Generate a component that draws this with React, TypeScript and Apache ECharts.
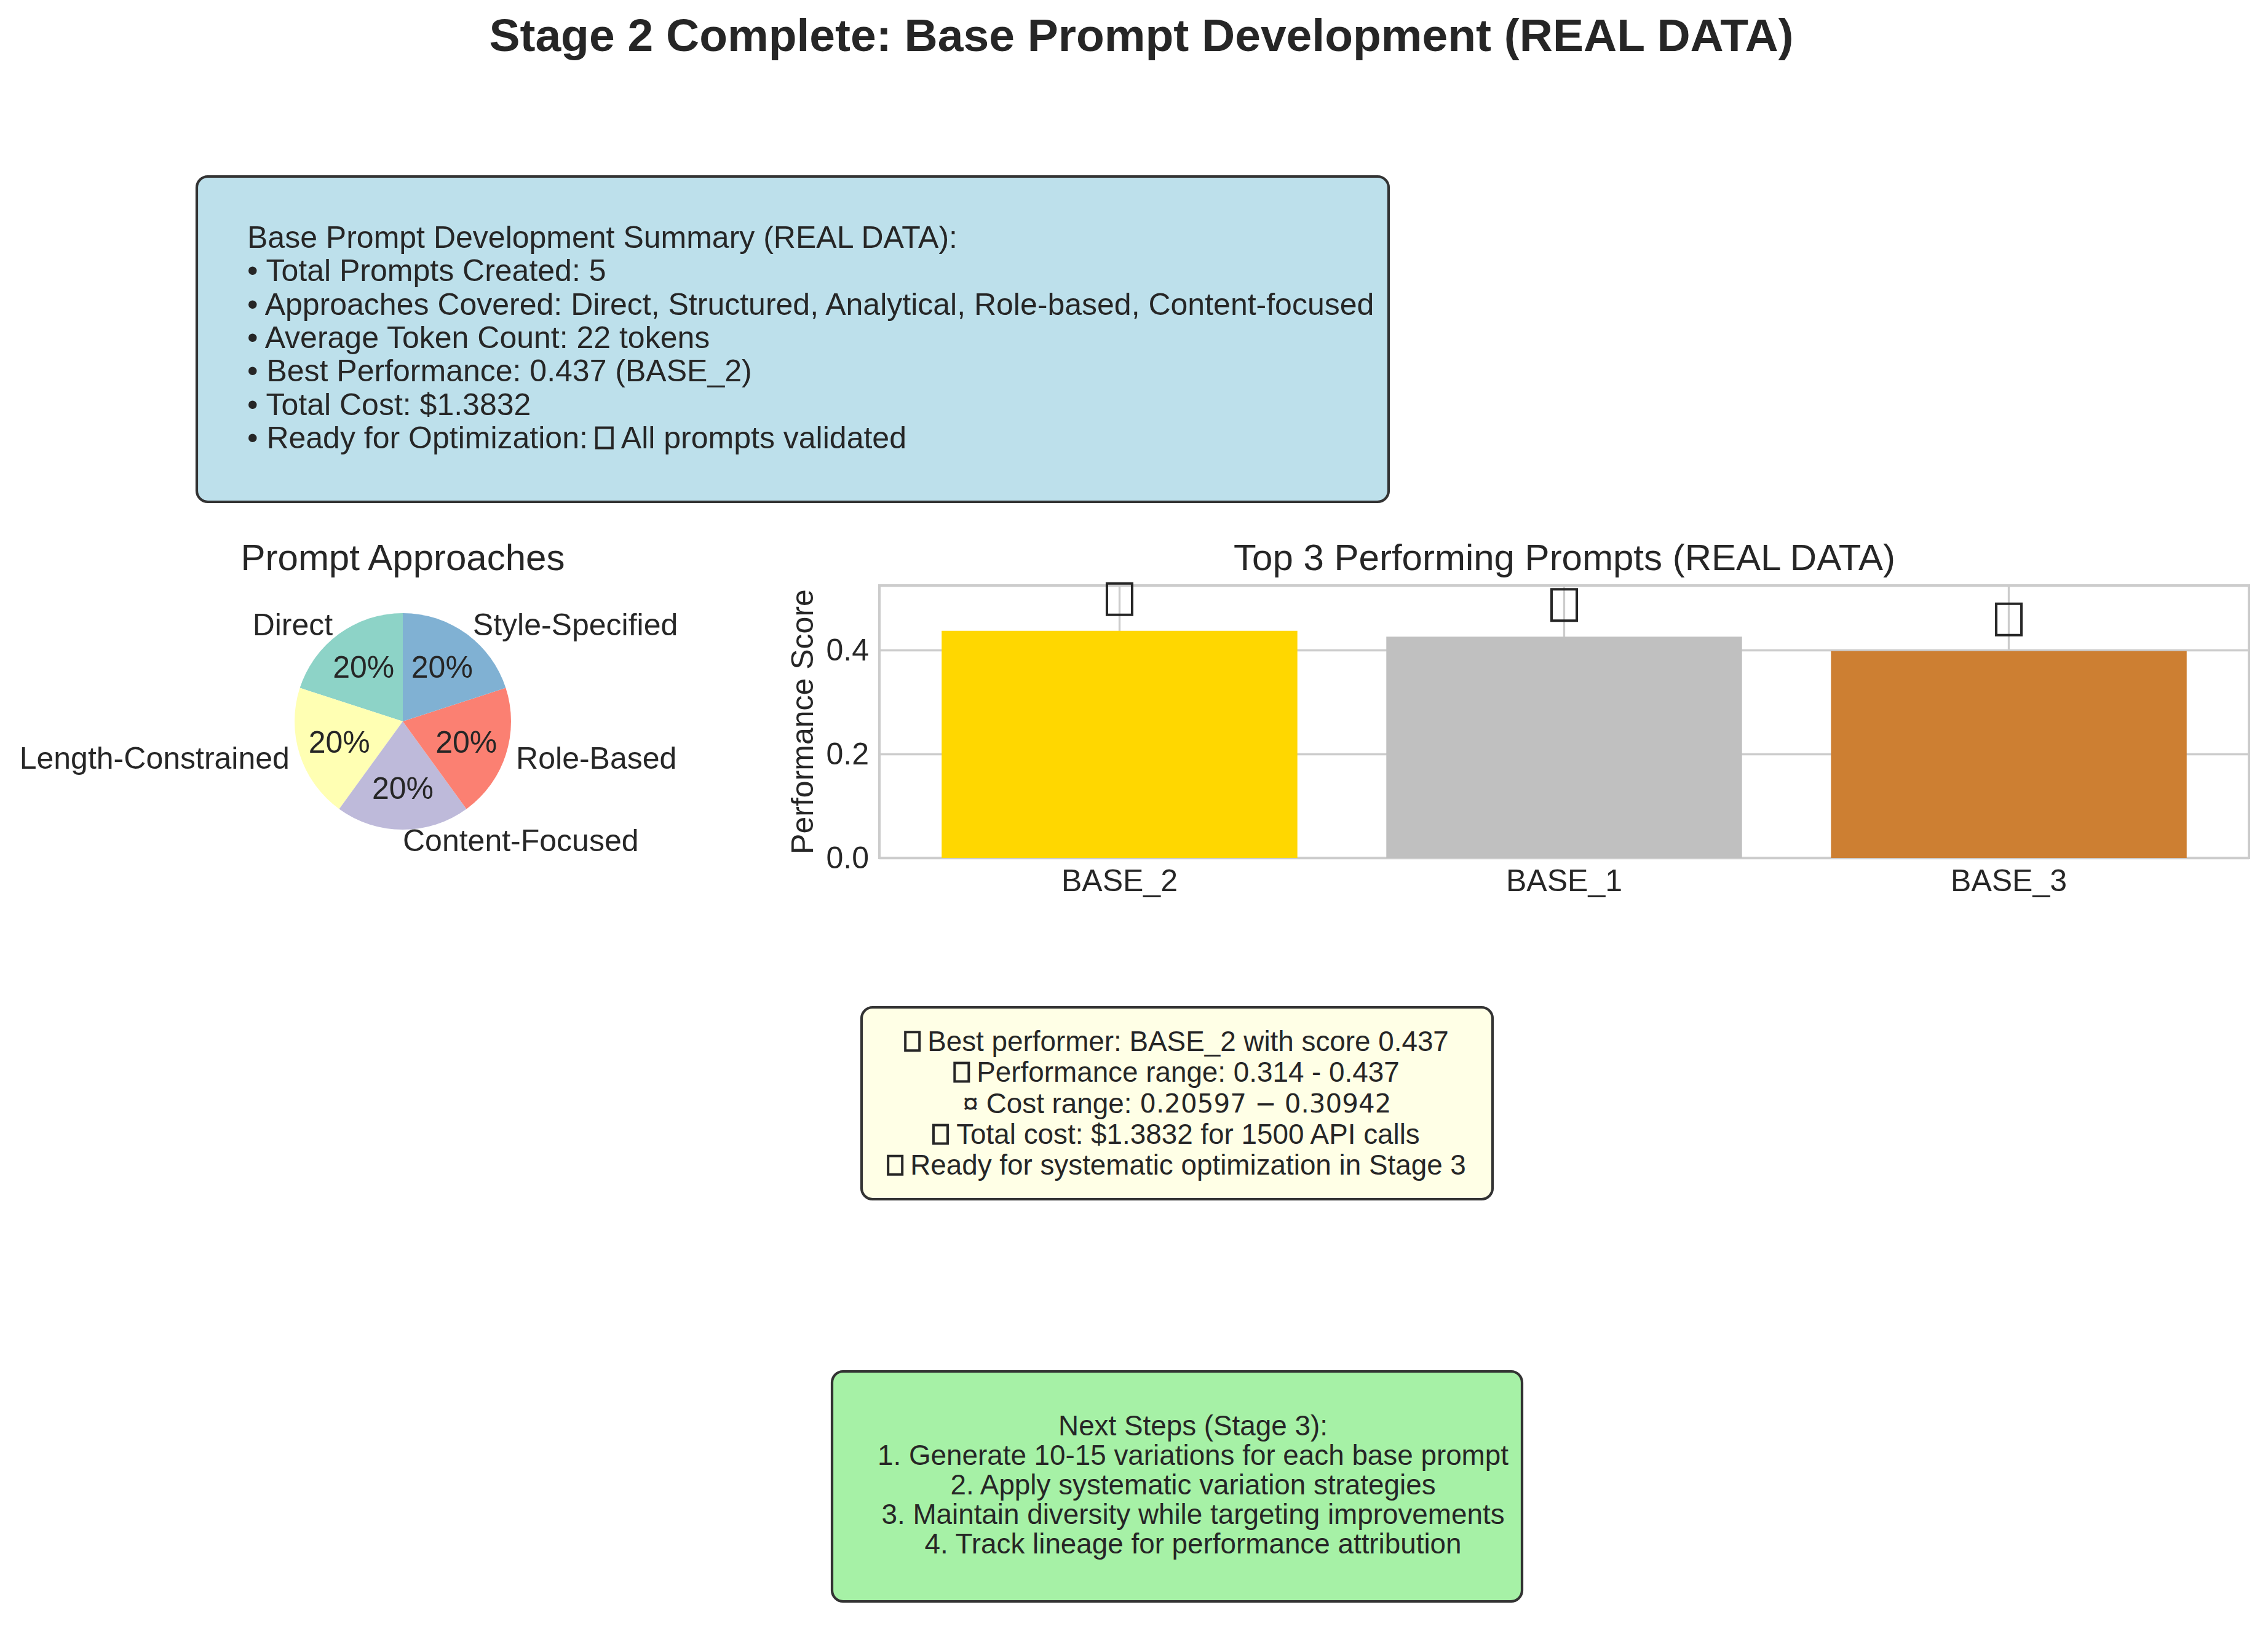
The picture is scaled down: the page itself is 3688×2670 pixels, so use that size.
import React, { useEffect, useRef } from "react";
import * as echarts from "echarts";

const FONT = '"Liberation Sans", Arial, Helvetica, sans-serif';
const MATH_FONT = '"DejaVu Sans", sans-serif';
const TEXT = "#262626";

// Figure title
const figureTitle = "Stage 2 Complete: Base Prompt Development (REAL DATA)";

// Pie: prompt approaches
const pieTitle = "Prompt Approaches";
const approachNames = ["Direct", "Length-Constrained", "Content-Focused", "Role-Based", "Style-Specified"];
const approachCounts = [1, 1, 1, 1, 1];
const approachColors = ["#8dd3c7", "#ffffb3", "#bebada", "#fb8072", "#80b1d3"];

// Bar: top 3 prompts
const barTitle = "Top 3 Performing Prompts (REAL DATA)";
const topPrompts = ["BASE_2", "BASE_1", "BASE_3"];
const topScores = [0.437, 0.426, 0.398];
const topColors = ["#ffd700", "#c0c0c0", "#cd7f32"];
const yAxisName = "Performance Score";
const yMax = 0.437 * 1.2;

// Text boxes ({t| } = glyph the figure's font could not draw, shown as an empty box; {s| } = space)
const summaryLines = [
  "Base Prompt Development Summary (REAL DATA):",
  "• Total Prompts Created: 5",
  "• Approaches Covered: Direct, Structured, Analytical, Role-based, Content-focused",
  "• Average Token Count: 22 tokens",
  "• Best Performance: 0.437 (BASE_2)",
  "• Total Cost: $1.3832",
  "• Ready for Optimization:{s| }{t| }{s| }All prompts validated",
];
const insightLines = [
  "{t| }{s| }Best performer: BASE_2 with score 0.437",
  "{t| }{s| }Performance range: 0.314 - 0.437",
  "¤ Cost range: {m|0.20597 − 0.30942}",
  "{t| }{s| }Total cost: $1.3832 for 1500 API calls",
  "{t| }{s| }Ready for systematic optimization in Stage 3",
];
const nextStepLines = [
  "Next Steps (Stage 3):",
  "1. Generate 10-15 variations for each base prompt",
  "2. Apply systematic variation strategies",
  "3. Maintain diversity while targeting improvements",
  "4. Track lineage for performance attribution",
];

function tofu(w: number, h: number, lh: number) {
  return {
    width: w, height: h, lineHeight: lh, borderColor: TEXT, borderWidth: 2,
    backgroundColor: "transparent", fontSize: 10, fill: "transparent", color: "transparent",
  };
}
function spacer(w: number, lh: number) {
  return { width: w, lineHeight: lh, fontSize: 10, fill: "transparent", color: "transparent" };
}

function buildOption(): any {
  const frameLeft = 1430;
  const frameWidth = 2227;
  const inset = (frameWidth * 0.04) / 3.08;
  return {
    animation: false,
    backgroundColor: "#ffffff",
    textStyle: { fontFamily: FONT, color: TEXT },
    grid: [
      {
        left: frameLeft, top: 952, width: frameWidth, height: 443,
        show: true, borderColor: "#cccccc", borderWidth: 4, backgroundColor: "#ffffff",
        containLabel: false, outerBoundsMode: "none",
      },
      {
        left: frameLeft + inset, top: 952, width: frameWidth - 2 * inset, height: 443,
        containLabel: false, outerBoundsMode: "none",
      },
    ],
    xAxis: [
      { gridIndex: 0, type: "value", min: 0, max: 1, show: false },
      {
        gridIndex: 1, type: "category", data: topPrompts,
        axisLine: { show: false }, axisTick: { show: false }, splitLine: { show: false },
        axisLabel: { fontSize: 50, color: TEXT, fontFamily: FONT, margin: 12 },
      },
    ],
    yAxis: [
      {
        gridIndex: 0, type: "value", min: 0, max: yMax, interval: 0.2,
        axisLine: { show: false }, axisTick: { show: false },
        axisLabel: {
          fontSize: 50, color: TEXT, fontFamily: FONT, margin: 17, showMaxLabel: false,
          formatter: (v: number) => v.toFixed(1),
        },
        splitLine: { show: true, lineStyle: { color: "#cccccc", width: 3.3 } },
        name: yAxisName, nameLocation: "middle", nameGap: 100,
        nameTextStyle: { fontSize: 50, color: TEXT, fontFamily: FONT },
      },
      { gridIndex: 1, type: "value", min: 0, max: yMax, show: false },
    ],
    series: [
      {
        type: "pie", center: [655, 1173], radius: [0, 176], startAngle: 90, clockwise: false,
        avoidLabelOverlap: false, silent: true, emphasis: { disabled: true },
        data: approachNames.map((n, i) => ({ name: n, value: approachCounts[i], itemStyle: { color: approachColors[i] } })),
        label: {
          show: true, position: "outside", formatter: "{b}", fontSize: 50, color: TEXT,
          fontFamily: FONT, distanceToLabelLine: 0,
        },
        labelLine: { show: false, length: 17.6, length2: 0 },
      },
      {
        type: "pie", center: [655, 1173], radius: [0, 211.2], startAngle: 90, clockwise: false,
        avoidLabelOverlap: false, silent: true, emphasis: { disabled: true },
        data: approachNames.map((n, i) => ({ name: n, value: approachCounts[i], itemStyle: { color: "rgba(0,0,0,0)" } })),
        label: {
          show: true, position: "inside", fontSize: 50, color: TEXT, fontFamily: FONT,
          formatter: (p: any) => Math.round(p.percent) + "%",
        },
        labelLine: { show: false },
      },
      {
        type: "bar", xAxisIndex: 1, yAxisIndex: 1, barWidth: "80%", z: 2, silent: true,
        emphasis: { disabled: true },
        data: topScores.map((v, i) => ({ value: v, itemStyle: { color: topColors[i] } })),
        label: {
          show: true, position: "top", distance: 26,
          formatter: () => "{t| }",
          rich: { t: tofu(41, 51, 51) },
        },
        markLine: {
          silent: true, symbol: "none", z: 1, animation: false,
          label: { show: false }, emphasis: { disabled: true },
          lineStyle: { color: "#cccccc", width: 3.3, type: "solid" },
          data: topPrompts.map((n) => ({ xAxis: n })),
        },
      },
    ],
    graphic: {
      elements: [
        {
          type: "text", silent: true,
          style: { text: figureTitle, x: 1856, y: 57, align: "center", verticalAlign: "middle", fontSize: 75, fontWeight: "bold", fontFamily: FONT, fill: TEXT },
        },
        {
          type: "text", silent: true,
          style: { text: pieTitle, x: 655, y: 906, align: "center", verticalAlign: "middle", fontSize: 60, fontFamily: FONT, fill: TEXT },
        },
        {
          type: "text", silent: true,
          style: { text: barTitle, x: 2544, y: 906, align: "center", verticalAlign: "middle", fontSize: 60, fontFamily: FONT, fill: TEXT },
        },
        {
          type: "rect", silent: true,
          shape: { x: 320, y: 287, width: 1938, height: 529, r: 18 },
          style: { fill: "#bde0eb", stroke: "#333333", lineWidth: 4.2 },
        },
        {
          type: "text", silent: true,
          style: {
            text: summaryLines.join("\n"), x: 402, y: 359, align: "left", verticalAlign: "top",
            fontSize: 50, lineHeight: 54.3, fontFamily: FONT, fill: TEXT,
            rich: { t: tofu(26, 33, 54.3), s: spacer(14, 54.3) },
          },
        },
        {
          type: "rect", silent: true,
          shape: { x: 1401, y: 1638, width: 1026, height: 312, r: 18 },
          style: { fill: "#ffffe6", stroke: "#333333", lineWidth: 4.2 },
        },
        {
          type: "text", silent: true,
          style: {
            text: insightLines.join("\n"), x: 1914, y: 1668, align: "center", verticalAlign: "top",
            fontSize: 45.8, lineHeight: 50.4, fontFamily: FONT, fill: TEXT,
            rich: {
              m: { fontSize: 42, lineHeight: 50.4, fontFamily: MATH_FONT, fill: TEXT },
              t: tofu(23, 30, 50.4),
              s: spacer(13, 50.4),
            },
          },
        },
        {
          type: "rect", silent: true,
          shape: { x: 1353, y: 2230, width: 1122, height: 374, r: 18 },
          style: { fill: "#a6f1a6", stroke: "#333333", lineWidth: 4.2 },
        },
        {
          type: "text", silent: true,
          style: { text: nextStepLines.join("\n"), x: 1940, y: 2295, align: "center", verticalAlign: "top", fontSize: 45.8, lineHeight: 47.8, fontFamily: FONT, fill: TEXT },
        },
      ],
    },
  };
}

export default function App() {
  const ref = useRef<HTMLDivElement>(null);
  useEffect(() => {
    if (!ref.current) return;
    const chart = echarts.init(ref.current, null, { renderer: "svg" });
    chart.setOption(buildOption());
    return () => chart.dispose();
  }, []);
  return (
    <div
      ref={ref}
      style={{ position: "absolute", left: 0, top: 0, width: 3688, height: 2670, background: "#ffffff" }}
    />
  );
}
